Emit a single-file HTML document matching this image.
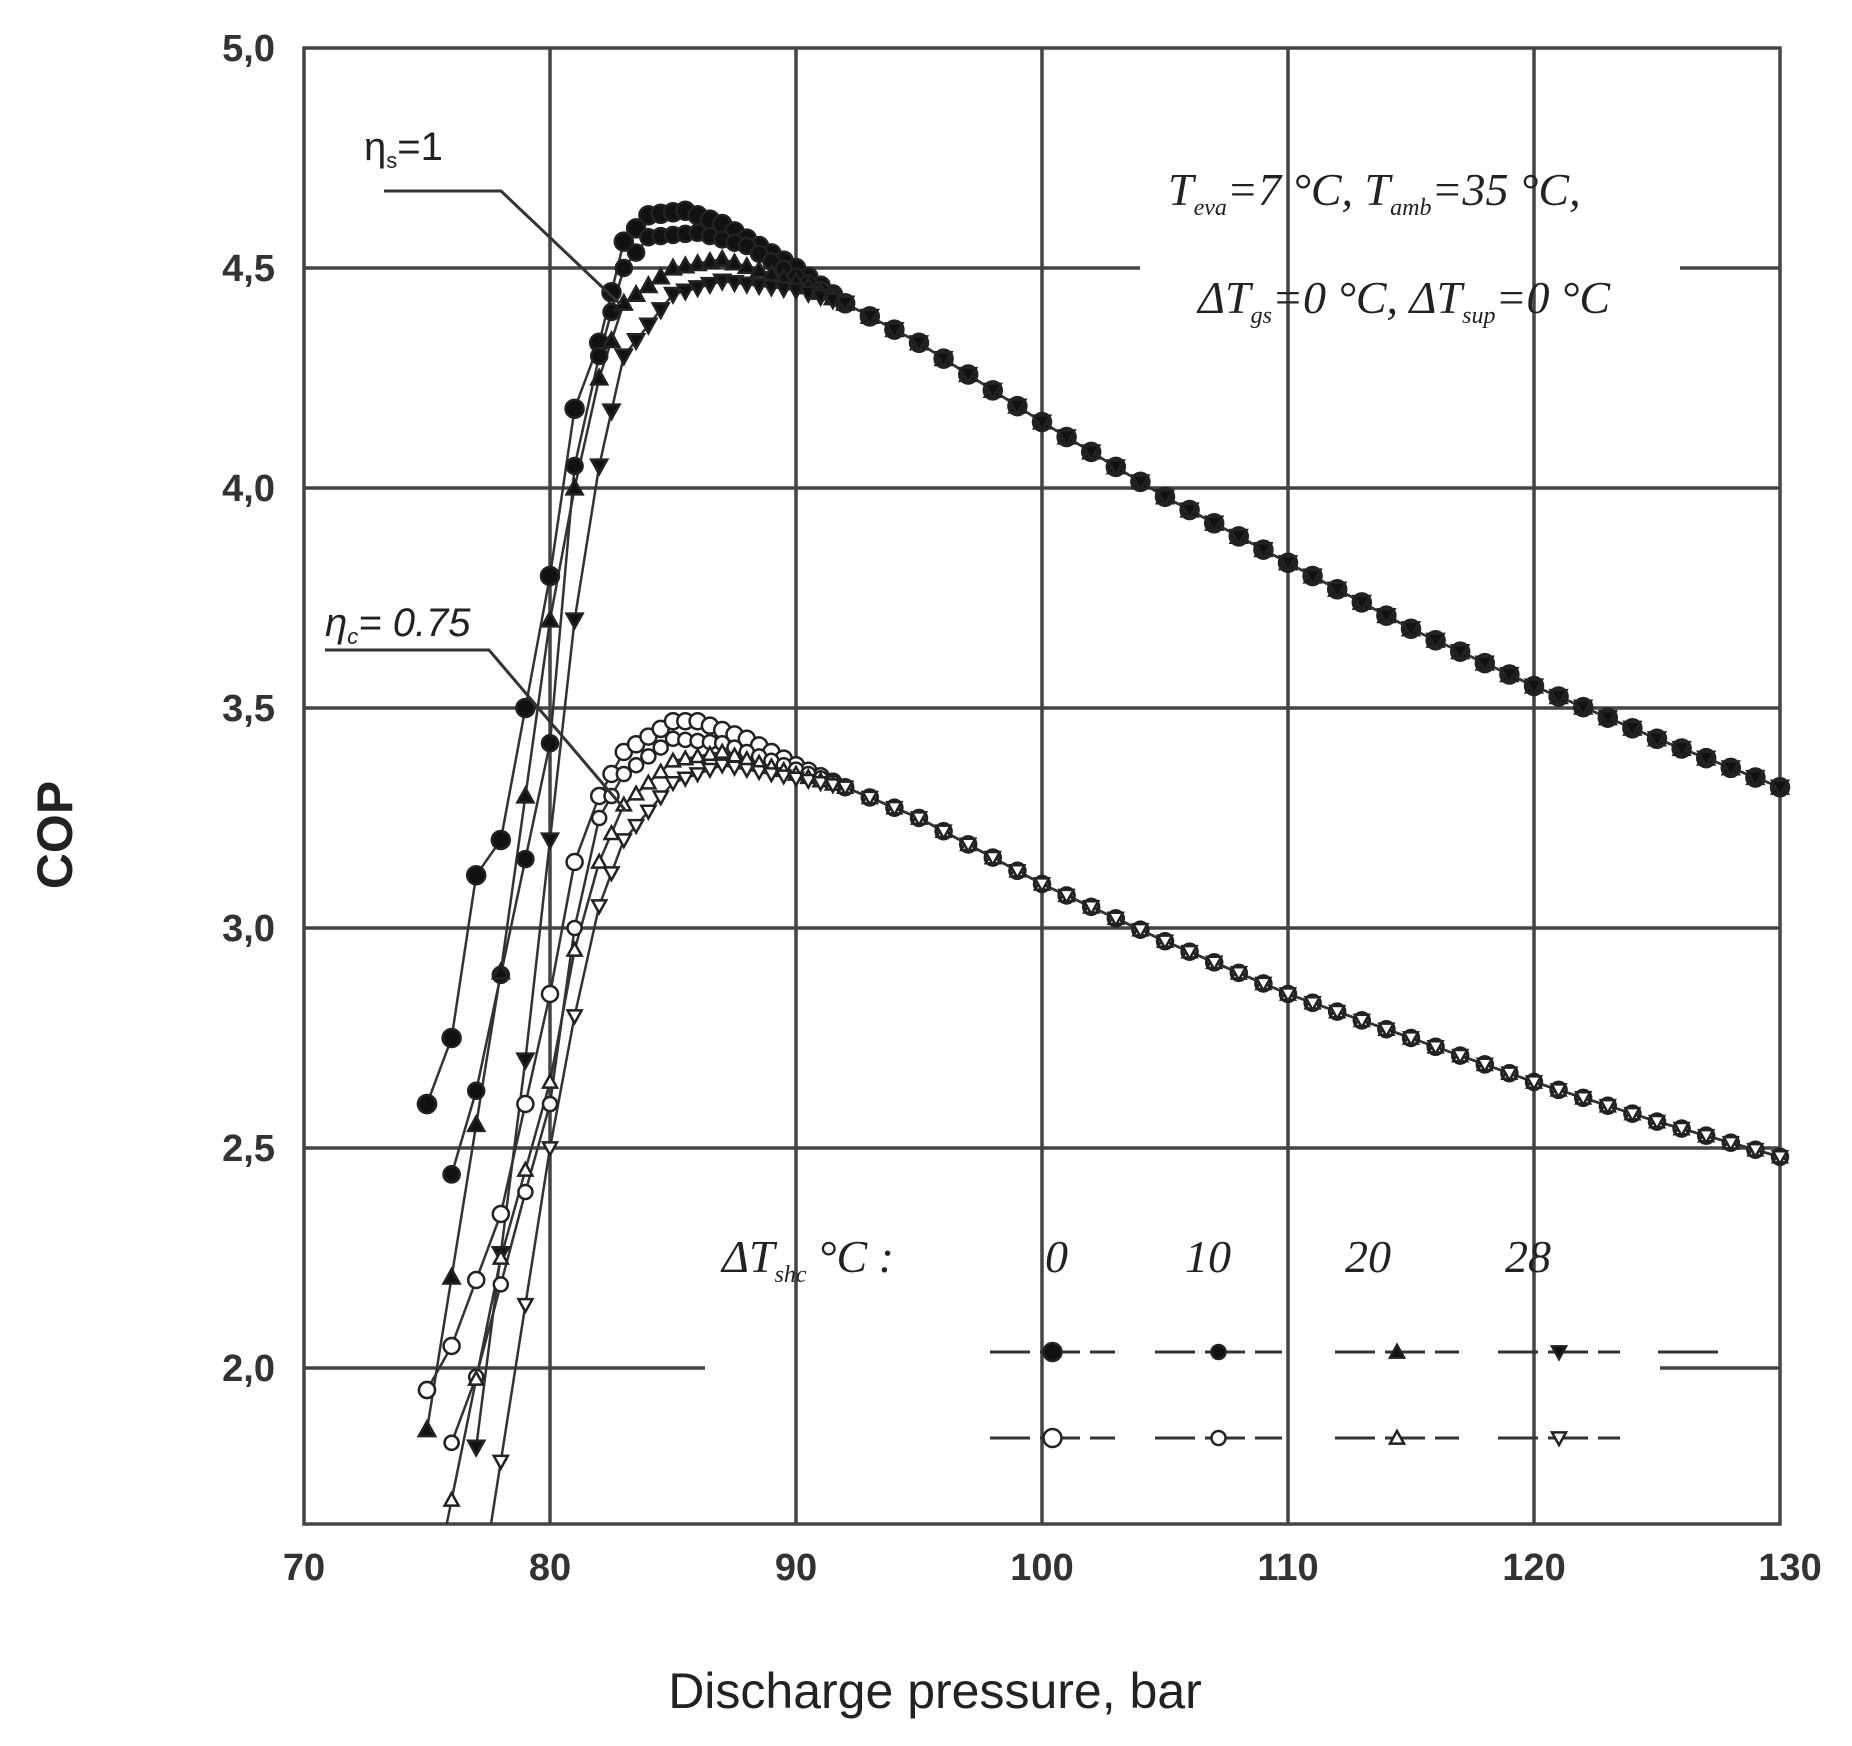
<!DOCTYPE html>
<html><head><meta charset="utf-8"><style>
html,body{margin:0;padding:0;background:#fff;}
svg{display:block}
</style></head><body>
<svg id="s" width="1852" height="1746" viewBox="0 0 1852 1746" xmlns="http://www.w3.org/2000/svg">
<rect width="1852" height="1746" fill="#fff"/>
<g id="grid" stroke="#444" stroke-width="3.5" fill="none"></g>
<g id="series"></g>
<g font-family="Liberation Sans, sans-serif" font-size="38" font-weight="bold" fill="#333" id="ticks"></g>
<text x="935" y="1708" font-family="Liberation Sans, sans-serif" font-size="50" fill="#222" text-anchor="middle">Discharge pressure, bar</text>
<text transform="translate(72,835) rotate(-90)" font-family="Liberation Sans, sans-serif" font-size="50" font-weight="bold" fill="#222" text-anchor="middle">COP</text>
<g font-family="Liberation Serif, serif" font-style="italic" font-size="46" fill="#222">
<text x="1168" y="205">T<tspan font-size="24" dy="10">eva</tspan><tspan dy="-10">=7 °C, T</tspan><tspan font-size="24" dy="10">amb</tspan><tspan dy="-10">=35 °C,</tspan></text>
<text x="1198" y="313">ΔT<tspan font-size="24" dy="10">gs</tspan><tspan dy="-10">=0 °C, ΔT</tspan><tspan font-size="24" dy="10">sup</tspan><tspan dy="-10">=0 °C</tspan></text>
<text x="722" y="1272">ΔT<tspan font-size="24" dy="10">shc</tspan><tspan dy="-10"> °C :</tspan></text>
<text x="1045" y="1272">0</text><text x="1185" y="1272">10</text><text x="1345" y="1272">20</text><text x="1505" y="1272">28</text>
</g>
<g font-family="Liberation Sans, sans-serif" font-size="40" fill="#222">
<text x="364" y="160">η<tspan font-size="22" dy="8">s</tspan><tspan dy="-8">=1</tspan></text>
<text x="325" y="636" font-style="italic">η<tspan font-size="22" dy="8">c</tspan><tspan dy="-8">= 0.75</tspan></text>
</g>
<g stroke="#333" stroke-width="3" fill="none">
<polyline points="384,191 501,191 620,304"/>
<polyline points="325,650 489,650 626,811"/>
</g>
</svg>
<script>
var NS="http://www.w3.org/2000/svg";
function X(p){return 304+(p-70)*24.6;}
function Y(c){return 48+(5-c)*440;}
function el(t,a,par){var e=document.createElementNS(NS,t);for(var k in a)e.setAttribute(k,a[k]);par.appendChild(e);return e;}
var g=document.getElementById('grid');
el('rect',{x:304,y:48,width:1476,height:1476},g);
for(var p=80;p<130;p+=10){el('line',{x1:X(p),y1:48,x2:X(p),y2:1524},g);}
var hl=[[4.5,304,1140],[4.5,1680,1780],[4,304,1780],[3.5,304,1780],[3,304,1780],[2.5,304,1780],[2,304,705],[2,1660,1780]];
hl.forEach(function(h){el('line',{x1:h[1],y1:Y(h[0]),x2:h[2],y2:Y(h[0])},g);});
var tk=document.getElementById('ticks');
[5,4.5,4,3.5,3,2.5,2].forEach(function(c){var t=el('text',{x:275,y:Y(c)+13,'text-anchor':'end'},tk);t.textContent=c.toFixed(1).replace('.',',');});
[70,80,90,100,110,120,130].forEach(function(p){var t=el('text',{x:X(p)+(p==130?10:0),y:1580,'text-anchor':'middle'},tk);t.textContent=p;});
var tailU=[[92,4.42],[95,4.33],[100,4.15],[105,3.98],[110,3.83],[115,3.68],[120,3.55],[125,3.43],[130,3.32]];
var tailL=[[92,3.32],[95,3.25],[100,3.1],[105,2.97],[110,2.85],[115,2.75],[120,2.65],[125,2.56],[130,2.48]];
var S=[
 {m:'c',f:1,r:9,pts:[[75,2.6],[76,2.75],[77,3.12],[78,3.2],[80,3.8],[81,4.18],[82,4.33],[83,4.56],[84,4.62],[85.5,4.63],[87,4.6],[90,4.5]].concat(tailU)},
 {m:'c',f:1,r:8,pts:[[76,2.44],[77,2.63],[80,3.42],[81,4.05],[82,4.3],[83,4.5],[84,4.57],[86,4.58],[88,4.55],[90,4.48]].concat(tailU)},
 {m:'t',f:1,r:8,pts:[[75,1.86],[78,2.9],[80,3.7],[81,4.0],[82,4.25],[83,4.42],[85,4.5],[87,4.52],[90,4.47]].concat(tailU)},
 {m:'v',f:1,r:8,pts:[[77,1.82],[79,2.7],[81,3.7],[82,4.05],[83,4.3],[85,4.44],[87,4.47],[90,4.45]].concat(tailU)},
 {m:'c',f:0,r:8,pts:[[75,1.95],[76,2.05],[78,2.35],[80,2.85],[81,3.15],[82,3.3],[83,3.4],[85,3.47],[86,3.47],[88,3.43],[90,3.37]].concat(tailL)},
 {m:'c',f:0,r:7,pts:[[76,1.83],[77,1.98],[79,2.4],[80,2.6],[81,3.0],[82,3.25],[83,3.35],[85,3.43],[87,3.42],[90,3.36]].concat(tailL)},
 {m:'t',f:0,r:7,pts:[[75.8,1.645],[78,2.25],[80,2.65],[81,2.95],[82,3.15],[83,3.28],[85,3.38],[87,3.4],[90,3.35]].concat(tailL)},
 {m:'v',f:0,r:7,pts:[[77.6,1.645],[80,2.5],[81,2.8],[82,3.05],[83,3.2],[85,3.33],[87,3.37],[90,3.34]].concat(tailL)}
];
var sg=document.getElementById('series');
function interp(pts,p){for(var i=0;i<pts.length-1;i++){if(p>=pts[i][0]&&p<=pts[i+1][0]){var t=(p-pts[i][0])/(pts[i+1][0]-pts[i][0]);return pts[i][1]+t*(pts[i+1][1]-pts[i][1]);}}return null;}
function marker(m,f,r,x,y,par){
 var a={fill:f?'#111':'#fff',stroke:'#222','stroke-width':2.5};
 if(m=='c'){a.cx=x;a.cy=y;a.r=r;el('circle',a,par);}
 else if(m=='t'){a.points=(x)+','+(y-r)+' '+(x+r)+','+(y+r*0.8)+' '+(x-r)+','+(y+r*0.8);el('polygon',a,par);}
 else {a.points=(x)+','+(y+r)+' '+(x+r)+','+(y-r*0.8)+' '+(x-r)+','+(y-r*0.8);el('polygon',a,par);}
}
S.forEach(function(s){
 var d=s.pts.map(function(q){return X(q[0])+','+Y(q[1]);}).join(' ');
 el('polyline',{points:d,fill:'none',stroke:'#333','stroke-width':2.5},sg);
});
S.forEach(function(s){
 var p0=s.pts[0][0];
 if(s.pts[0][1]>1.7) marker(s.m,s.f,s.r,X(p0),Y(s.pts[0][1]),sg);
 var start=Math.ceil(p0);
 for(var p=start;p<=130.001;p+=((p>=82&&p<92)?0.5:1)){
  var c=interp(s.pts,p); if(c===null||c<1.7)continue;
  marker(s.m,s.f,s.r,X(p),Y(c),sg);
 }
});
var lg=[[990,1115],[1155,1282],[1335,1459],[1498,1620]];
var ms=['c','c','t','v'];
[[1352,1],[1438,0]].forEach(function(row){
 lg.forEach(function(seg,i){
  el('line',{x1:seg[0],y1:row[0],x2:seg[1],y2:row[0],stroke:'#333','stroke-width':3,'stroke-dasharray':'40,10'},sg);
  marker(ms[i],row[1],i==0?9:7,(seg[0]+seg[1])/2,row[0],sg);
 });
});
el('line',{x1:1658,y1:1352,x2:1718,y2:1352,stroke:'#333','stroke-width':3},sg);
</script>
</body></html>
